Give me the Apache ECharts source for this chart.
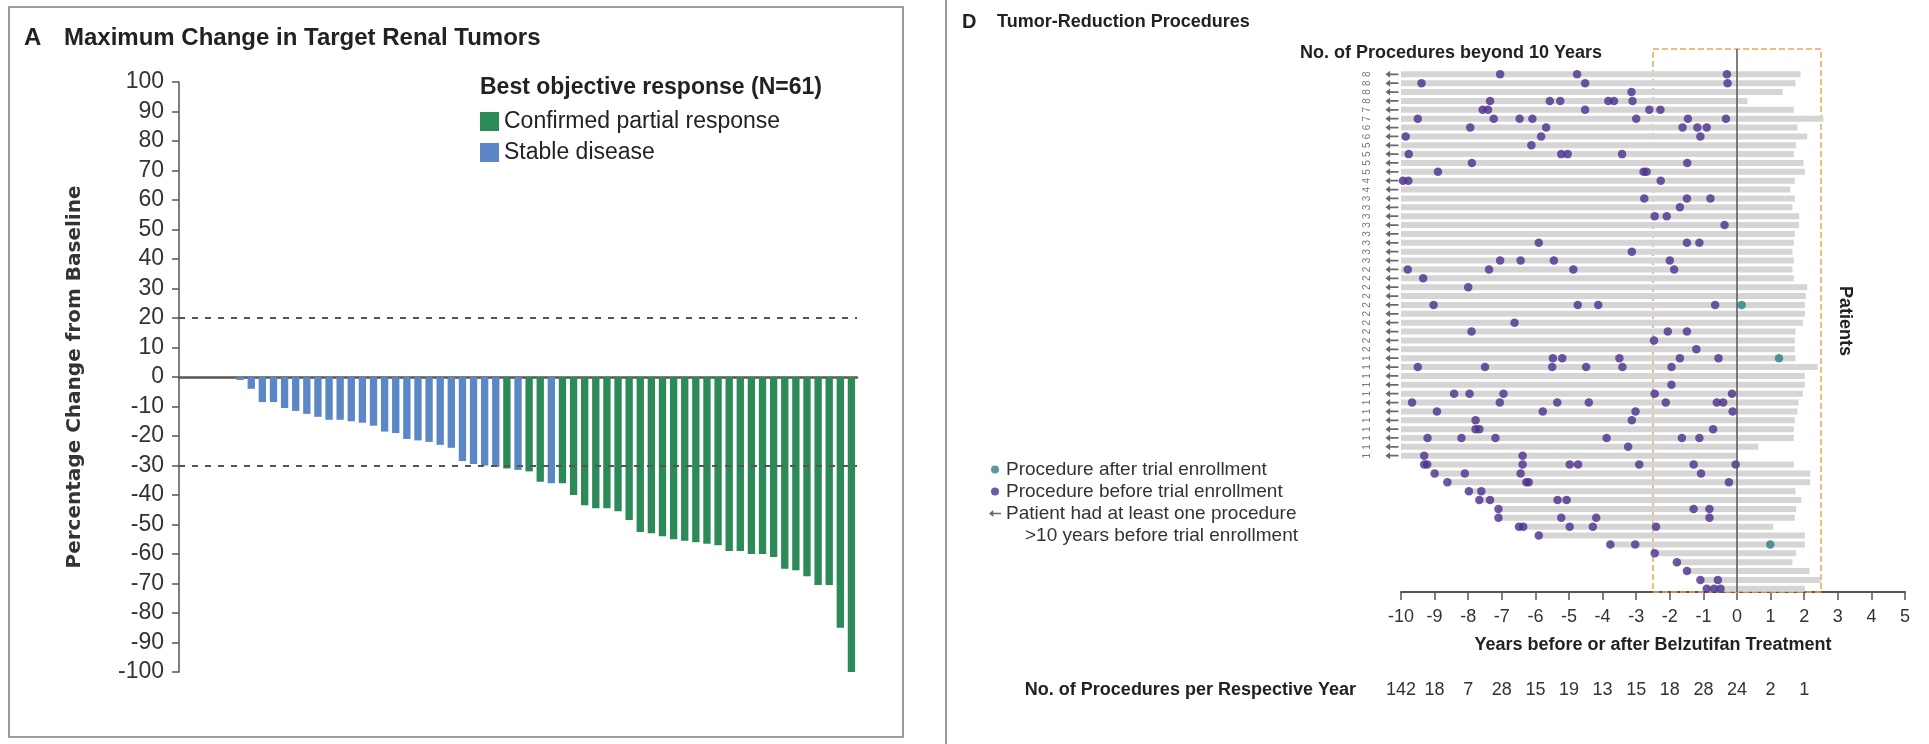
<!DOCTYPE html>
<html><head><meta charset="utf-8">
<script src="https://cdn.jsdelivr.net/npm/echarts@6/dist/echarts.min.js"></script>
<style>html,body{margin:0;padding:0;background:#fff}#c{width:1929px;height:744px}</style>
</head><body><div id="c"></div>
<script>
// ---------------- Panel A data ----------------
const PATIENT_IDS = ['1','2','3','4','5','6','7','8','9','10','11','12','13','14','15','16','17','18','19','20',
  '21','22','23','24','25','26','27','28','29','30','31','32','33','34','35','36','37','38','39','40',
  '41','42','43','44','45','46','47','48','49','50','51','52','53','54','55','56','57','58','59','60','61'];
const MAX_CHANGE = [0,0,0,0,0,-1,-4,-8.5,-8.5,-10.5,-11.5,-12.5,-13.5,-14.5,-14.5,-15,-15.5,-16.5,-18.5,-19,
  -21,-21.5,-22,-23,-24,-28.5,-29.5,-30,-30.5,-31,-31.5,-32,-35.5,-36,-36,-40,-43.5,-44.5,-44.5,-45.5,
  -48.5,-52.5,-53,-54,-55,-55.5,-56,-56.5,-57,-59,-59,-60,-60,-61,-65,-65.5,-67.5,-70.5,-70.5,-85,-100];
const RESPONSE = ['SD','SD','SD','SD','SD','SD','SD','SD','SD','SD','SD','SD','SD','SD','SD','SD','SD','SD','SD','SD',
  'SD','SD','SD','SD','SD','SD','SD','SD','SD','PR','SD','PR','PR','SD','PR','PR','PR','PR','PR','PR',
  'PR','PR','PR','PR','PR','PR','PR','PR','PR','PR','PR','PR','PR','PR','PR','PR','PR','PR','PR','PR','PR'];
const THRESHOLDS = [20, -30];

// ---------------- Panel D data ----------------
const PROCS_PER_YEAR = [142,18,7,28,15,19,13,15,18,28,24,2,1]; // years -10 .. 2
const BEYOND_10 = [8,8,8,8,7,7,6,6,5,5,5,5,4,4,3,3,3,3,3,3,3,3,2,2,2,2,2,2,2,2,2,2,1,1,1,1,1,1,1,1,1,1,1,1];
const FOLLOW_START = [-10,-10,-10,-10,-10,-10,-10,-10,-10,-10,-10,-10,-10,-10,-10,-10,-10,-10,-10,-10,
  -10,-10,-10,-10,-10,-10,-10,-10,-10,-10,-10,-10,-10,-10,-10,-10,-10,-10,-10,-10,-10,-10,-10,-10,
  -9.3,-9.0,-8.6,-8.0,-7.7,-7.1,-7.1,-6.5,-5.9,-3.8,-2.45,-1.8,-1.5,-1.1,-0.9];
const FOLLOW_END = [1.89,1.74,1.36,0.31,1.69,2.57,1.8,2.09,1.76,1.69,1.98,2.02,1.72,1.58,1.72,
  1.65,1.85,1.85,1.72,1.69,1.65,1.69,1.65,1.69,2.09,2.05,2.02,2.02,1.96,1.74,1.72,
  1.72,1.74,2.4,2.02,2.02,1.96,1.83,1.8,1.72,1.69,1.69,0.64,0.0,
  1.69,2.18,2.18,1.74,1.91,1.76,1.72,1.08,2.02,2.02,1.76,1.65,2.16,2.49,2.02];
const PRE_PROCEDURES = [
  [-7.05,-4.76,-0.3],[-9.39,-4.52,-0.28],[-3.14],[-7.35,-5.57,-5.26,-3.83,-3.66,-3.11],
  [-7.57,-7.41,-4.52,-2.61,-2.28],[-9.5,-7.24,-6.47,-6.09,-3.0,-1.46,-0.33],[-7.94,-5.68,-1.62,-1.18,-0.9],
  [-9.86,-5.83,-1.09],[-6.12],[-9.77,-5.23,-5.04,-3.42],[-7.89,-1.48],[-8.9,-2.78,-2.69],[-9.94,-9.78,-2.27],
  [],[-2.76,-1.49,-0.79],[-1.7],[-2.45,-2.09],[-0.37],[],[-5.9,-1.49,-1.12],[-3.13],[-7.05,-6.44,-5.45,-2.0],
  [-9.8,-7.38,-4.87,-1.87],[-9.34],[-8.0],[],[-9.03,-4.74,-4.13,-0.65],[],[-6.62],[-7.9,-2.06,-1.49],[-2.47],
  [-1.21],[-5.48,-5.2,-3.5,-1.7,-0.55],[-9.5,-7.5,-5.5,-4.49,-3.41,-1.95],[],[-1.95],[-8.42,-7.96,-6.95,-2.45,-0.15],
  [-9.67,-7.06,-5.35,-4.41,-2.12,-0.6,-0.41],[-8.93,-5.78,-3.02,-0.13],[-7.78,-3.13],[-7.78,-7.67,-0.71],
  [-9.21,-8.2,-7.19,-3.88,-1.64,-1.12],[-3.24],[-9.31,-6.38],
  [-9.31,-9.22,-6.38,-4.98,-4.73,-2.91,-1.29,-0.04],[-9.0,-8.1,-6.44,-1.07],[-8.62,-6.27,-6.2,-0.24],
  [-7.98,-7.61],[-7.67,-7.35,-5.34,-5.07],[-7.1,-1.29,-0.82],[-7.1,-5.23,-4.19,-0.82],[-6.49,-6.36,-4.98,-4.29,-2.41],
  [-5.9],[-3.77,-3.03],[-2.45],[-1.79],[-1.49],[-1.09,-0.57],[-0.9,-0.68,-0.49]
];
const POST_PROCEDURES = [[0.14,26],[1.25,32],[0.99,53]]; // [year, patient row]
const ARROW_X = -10.27;
const ENROLL_WINDOW = [-2.5, 2.5];
const ROW_MIN = -2.85, ROW_MAX = 58.36;

// ---------------- chart ----------------
const FONT = '"Liberation Sans", Arial, sans-serif';
const ARROW_PATH = 'path://M0,4 L5,0 L5,3 L14,3 L14,5 L5,5 L5,8 Z';
const PRE_NAME = 'Procedure before trial enrollment';
const POST_NAME = 'Procedure after trial enrollment';
const ARROW_NAME = 'Patient had at least one procedure';

const chart = echarts.init(document.getElementById('c'));
const txt = (x, y, text, size, weight, extra) => ({
  type: 'text', x: x, y: y, silent: true,
  style: Object.assign({ text: text, fontSize: size, fontWeight: weight, fontFamily: FONT, fill: '#222',
    textAlign: 'left', textVerticalAlign: 'middle' }, extra || {})
});

chart.setOption({
  animation: false,
  textStyle: { fontFamily: FONT },
  graphic: [
    { type: 'rect', shape: { x: 9, y: 7, width: 894, height: 730 }, style: { fill: 'none', stroke: '#9a9a9a', lineWidth: 2 }, silent: true },
    { type: 'line', shape: { x1: 946, y1: 0, x2: 946, y2: 744 }, style: { stroke: '#9a9a9a', lineWidth: 2 }, silent: true },
    txt(24, 38, 'A', 24, 'bold'),
    txt(64, 38, 'Maximum Change in Target Renal Tumors', 24, 'bold'),
    txt(480, 88, 'Best objective response (N=61)', 23, 'bold'),
    txt(962, 22, 'D', 20, 'bold'),
    txt(997, 22, 'Tumor-Reduction Procedures', 18, 'bold'),
    txt(1300, 53, 'No. of Procedures beyond 10 Years', 18, 'bold'),
    txt(1356, 690, 'No. of Procedures per Respective Year', 18, 'bold', { textAlign: 'right' }),
    txt(1025, 536, '>10 years before trial enrollment', 19, 'normal', { fill: '#333' }),
    Object.assign(txt(1845, 321, 'Patients', 18, 'bold', { textAlign: 'center' }), { rotation: -Math.PI / 2 })
  ],
  legend: [
    { data: ['Confirmed partial response', 'Stable disease'], orient: 'vertical', left: 480, top: 110,
      itemWidth: 19, itemHeight: 19, itemGap: 8, icon: 'rect', selectedMode: false, padding: 0,
      textStyle: { fontSize: 23, color: '#222', fontFamily: FONT } },
    { data: [{ name: POST_NAME, icon: 'circle' }, { name: PRE_NAME, icon: 'circle' }, { name: ARROW_NAME, icon: ARROW_PATH }],
      orient: 'vertical', left: 989, top: 460, itemWidth: 12, itemHeight: 8, itemGap: 3, selectedMode: false, padding: 0,
      textStyle: { fontSize: 19, color: '#333', fontFamily: FONT } }
  ],
  grid: [
    { left: 179, top: 82, width: 678, height: 590 },
    { left: 1401, top: 49, width: 504, height: 543 }
  ],
  xAxis: [
    { type: 'category', gridIndex: 0, data: PATIENT_IDS,
      axisLine: { show: true, onZero: true, lineStyle: { color: '#555', width: 2.5 } },
      axisTick: { show: false }, axisLabel: { show: false }, splitLine: { show: false } },
    { type: 'value', gridIndex: 1, min: -10, max: 5, interval: 1,
      axisLine: { show: true, onZero: false, lineStyle: { color: '#555', width: 2 } },
      axisTick: { show: true, inside: false, length: 8, lineStyle: { color: '#555', width: 1.5 } },
      axisLabel: { fontSize: 18, color: '#333', margin: 16 }, splitLine: { show: false },
      name: 'Years before or after Belzutifan Treatment', nameLocation: 'middle', nameGap: 44,
      nameTextStyle: { fontSize: 18, fontWeight: 'bold', color: '#222' } },
    { type: 'value', gridIndex: 1, min: -10, max: 5, interval: 1, position: 'bottom', offset: 89,
      axisLine: { show: false }, axisTick: { show: false }, splitLine: { show: false },
      axisLabel: { fontSize: 18, color: '#333', margin: 0,
        formatter: v => { const n = PROCS_PER_YEAR[Math.round(v) + 10]; return n === undefined ? '' : String(n); } } }
  ],
  yAxis: [
    { type: 'value', gridIndex: 0, min: -100, max: 100, interval: 10,
      axisLine: { show: true, lineStyle: { color: '#555', width: 1.5 } },
      axisTick: { show: true, inside: false, length: 7, lineStyle: { color: '#555', width: 1.5 } },
      axisLabel: { fontSize: 23, color: '#333', margin: 15 }, splitLine: { show: false },
      name: 'Percentage Change from Baseline', nameLocation: 'middle', nameGap: 94,
      nameTextStyle: { fontFamily: '"DejaVu Sans", sans-serif', fontWeight: 'bold', fontSize: 20, color: '#333' } },
    { type: 'value', gridIndex: 1, inverse: true, min: ROW_MIN, max: ROW_MAX, show: false }
  ],
  series: [
    { name: 'Stable disease', type: 'bar', xAxisIndex: 0, yAxisIndex: 0, stack: 'resp', barCategoryGap: '34%',
      itemStyle: { color: '#5b87c7' },
      data: MAX_CHANGE.map((v, i) => RESPONSE[i] === 'SD' ? v : '-') },
    { name: 'Confirmed partial response', type: 'bar', xAxisIndex: 0, yAxisIndex: 0, stack: 'resp', barCategoryGap: '34%',
      itemStyle: { color: '#2b8a57' },
      data: MAX_CHANGE.map((v, i) => RESPONSE[i] === 'PR' ? v : '-'),
      markLine: { silent: true, symbol: 'none', label: { show: false },
        lineStyle: { color: '#555', width: 2, type: [6, 7] },
        data: THRESHOLDS.map(t => ({ yAxis: t })) } },
    { name: 'Follow-up', type: 'custom', xAxisIndex: 1, yAxisIndex: 1, silent: true,
      encode: { x: [0, 1], y: 2 },
      data: FOLLOW_START.map((s, i) => [s, FOLLOW_END[i], i]),
      renderItem: (params, api) => {
        const a = api.coord([api.value(0), api.value(2)]);
        const b = api.coord([api.value(1), api.value(2)]);
        const h = 6;
        return { type: 'rect', shape: { x: a[0], y: a[1] - h / 2, width: b[0] - a[0], height: h }, style: { fill: '#d5d5d5' } };
      },
      markArea: { silent: true, itemStyle: { color: 'rgba(0,0,0,0)', borderColor: '#f0a457', borderWidth: 1.5, borderType: 'dashed' },
        data: [[{ xAxis: ENROLL_WINDOW[0], yAxis: ROW_MIN }, { xAxis: ENROLL_WINDOW[1], yAxis: ROW_MAX }]] },
      markLine: { silent: true, symbol: 'none', label: { show: false },
        lineStyle: { color: '#555', width: 1.5, type: 'solid' }, data: [{ xAxis: 0 }] } },
    { name: ARROW_NAME, type: 'scatter', xAxisIndex: 1, yAxisIndex: 1, clip: false, silent: true,
      symbol: ARROW_PATH, symbolSize: [13, 7], itemStyle: { color: '#444' },
      data: BEYOND_10.map((n, row) => [ARROW_X, row, n]),
      label: { show: true, position: [-18, 3.5], align: 'center', verticalAlign: 'middle', rotate: 90,
        fontSize: 10, color: '#555', formatter: p => String(p.value[2]) } },
    { name: PRE_NAME, type: 'scatter', xAxisIndex: 1, yAxisIndex: 1, silent: true,
      symbolSize: 8.5, itemStyle: { color: '#4b2f8f' }, z: 4,
      data: PRE_PROCEDURES.flatMap((yrs, row) => yrs.map(y => [y, row])) },
    { name: POST_NAME, type: 'scatter', xAxisIndex: 1, yAxisIndex: 1, silent: true,
      symbolSize: 8.5, itemStyle: { color: '#2e7f84' }, z: 4,
      data: POST_PROCEDURES }
  ]
});
</script>
</body></html>
